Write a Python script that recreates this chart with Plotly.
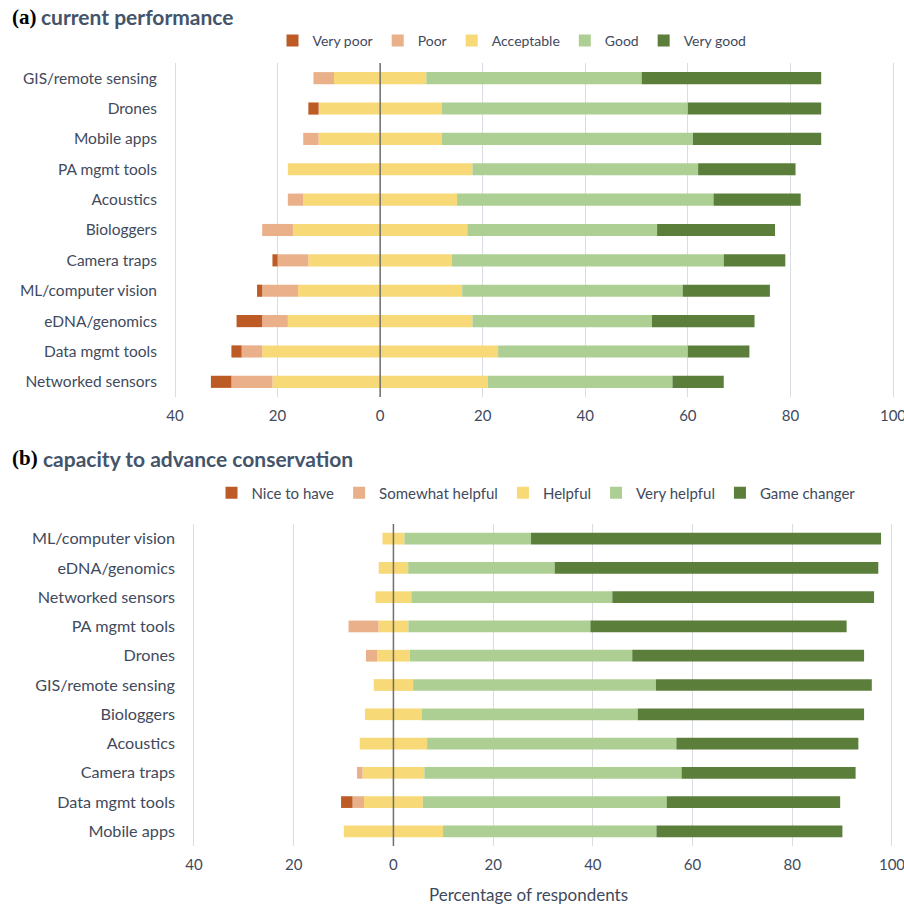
import plotly.graph_objects as go

# ---------------- data ----------------
cats_a = ["GIS/remote sensing", "Drones", "Mobile apps", "PA mgmt tools", "Acoustics",
          "Biologgers", "Camera traps", "ML/computer vision", "eDNA/genomics",
          "Data mgmt tools", "Networked sensors"]
very_poor_a = [0, 2, 0, 0, 0, 0, 1, 1, 5, 2, 4]
poor_a = [4, 0, 3, 0, 3, 6, 6, 7, 5, 4, 8]
acceptable_a = [18, 24, 24, 36, 30, 34, 28, 32, 36, 46, 42]
good_a = [42, 48, 49, 44, 50, 37, 53, 43, 35, 37, 36]
very_good_a = [35, 26, 25, 19, 17, 23, 12, 17, 20, 12, 10]

cats_b = ["ML/computer vision", "eDNA/genomics", "Networked sensors", "PA mgmt tools", "Drones",
          "GIS/remote sensing", "Biologgers", "Acoustics", "Camera traps",
          "Data mgmt tools", "Mobile apps"]
nice_b = [0, 0, 0, 0, 0, 0, 0, 0, 0, 2.3, 0]
somewhat_b = [0, 0, 0, 6.0, 2.2, 0, 0, 0, 1.1, 2.3, 0]
helpful_b = [4.4, 5.9, 7.2, 6.0, 6.6, 7.9, 11.4, 13.5, 12.4, 11.8, 19.9]
very_helpful_b = [25.4, 29.4, 40.3, 36.5, 44.6, 48.7, 43.3, 50.0, 51.6, 48.9, 42.8]
game_b = [70.2, 64.9, 52.5, 51.4, 46.5, 43.3, 45.4, 36.5, 34.9, 34.8, 37.3]

tick_vals = [-40, -20, 0, 20, 40, 60, 80, 100]
tick_text = ["40", "20", "0", "20", "40", "60", "80", "100"]

labels_a = ["Very poor", "Poor", "Acceptable", "Good", "Very good"]
labels_b = ["Nice to have", "Somewhat helpful", "Helpful", "Very helpful", "Game changer"]
colors = ["#BC5B26", "#E9B08A", "#F7D977", "#AECF94", "#5B7F3B"]

TXT = "#3F4A5C"
FONT = "Lato"

fig = go.Figure()


def add_panel(cats, s1, s2, s3, s4, s5, labels, xa, ya, legend):
    neg = lambda v: [-x for x in v]
    half = [x / 2 for x in s3]
    specs = [
        (neg(half), labels[2], colors[2], 3, False),
        (neg(s2), labels[1], colors[1], 2, True),
        (neg(s1), labels[0], colors[0], 1, True),
        (half, labels[2], colors[2], 3, True),
        (s4, labels[3], colors[3], 4, True),
        (s5, labels[4], colors[4], 5, True),
    ]
    for vals, name, col, rank, show in specs:
        fig.add_trace(go.Bar(
            x=vals, y=cats, orientation="h", name=name,
            marker=dict(color=col, line=dict(width=0)),
            xaxis=xa, yaxis=ya, legend=legend, legendrank=rank,
            showlegend=show, hoverinfo="skip",
        ))


add_panel(cats_a, very_poor_a, poor_a, acceptable_a, good_a, very_good_a, labels_a, "x", "y", "legend")
add_panel(cats_b, nice_b, somewhat_b, helpful_b, very_helpful_b, game_b, labels_b, "x2", "y2", "legend2")

W, H = 904, 906
PAD = 0.6

xcommon = dict(range=[-40 - PAD, 100 + PAD], tickvals=tick_vals, ticktext=tick_text,
               showgrid=True, gridcolor="#D9DDE3", gridwidth=1, zeroline=False,
               showline=False, ticks="", ticklabelstandoff=8, automargin=False,
               ticklabeloverflow="allow",
               tickfont=dict(family=FONT, size=15, color=TXT), fixedrange=True)

# pixel positions of -40 and 100 on each panel, domains padded accordingly
a_l, a_r = 175, 893
b_l, b_r = 194, 892
pa = (a_r - a_l) / 140 * PAD
pb = (b_r - b_l) / 140 * PAD

fig.update_layout(
    width=W, height=H, margin=dict(l=0, r=0, t=0, b=0, autoexpand=False),
    paper_bgcolor="white", plot_bgcolor="white",
    barmode="relative", bargap=0.6,
    xaxis=dict(domain=[(a_l - pa) / W, (a_r + pa) / W], anchor="y", **xcommon),
    yaxis=dict(domain=[1 - 397 / H, 1 - 63 / H], anchor="x", categoryorder="array",
               categoryarray=cats_a, autorange="reversed", showgrid=False,
               ticks="", ticklabelstandoff=14, automargin=False,
               tickfont=dict(family=FONT, size=15.5, color=TXT)),
    xaxis2=dict(domain=[(b_l - pb) / W, (b_r + pb) / W], anchor="y2", **xcommon),
    yaxis2=dict(domain=[1 - 846 / H, 1 - 524 / H], anchor="x2", categoryorder="array",
                categoryarray=cats_b, autorange="reversed", showgrid=False,
                ticks="", ticklabelstandoff=15, automargin=False,
                tickfont=dict(family=FONT, size=16.2, color=TXT)),
    legend=dict(orientation="h", x=512 / W, y=1 - 41 / H, xanchor="center", yanchor="middle",
                font=dict(family=FONT, size=14, color=TXT), traceorder="normal",
                itemwidth=30, bgcolor="rgba(0,0,0,0)"),
    legend2=dict(orientation="h", x=536 / W, y=1 - 493 / H, xanchor="center", yanchor="middle",
                 font=dict(family=FONT, size=15, color=TXT), traceorder="normal",
                 itemwidth=30, bgcolor="rgba(0,0,0,0)"),
    showlegend=True,
)

# zero lines drawn above the bars
for xr, yr in (("x", "y domain"), ("x2", "y2 domain")):
    fig.add_shape(type="line", xref=xr, yref=yr, x0=0, x1=0, y0=0, y1=1,
                  line=dict(color="#6E6E6E", width=1.5), layer="above")

# titles
title_font = dict(family=FONT, size=21, color="#44546A")
serif_font = dict(family="Liberation Serif", size=21, color="black")
fig.add_annotation(text="<b>(a)</b>", x=10 / W, y=1 - 17 / H, xref="paper", yref="paper",
                   xanchor="left", yanchor="middle", showarrow=False, font=serif_font)
fig.add_annotation(text="<b>current performance</b>", x=39 / W, y=1 - 17 / H, xref="paper",
                   yref="paper", xanchor="left", yanchor="middle", showarrow=False, font=title_font)
fig.add_annotation(text="<b>(b)</b>", x=10 / W, y=1 - 458 / H, xref="paper", yref="paper",
                   xanchor="left", yanchor="middle", showarrow=False, font=serif_font)
fig.add_annotation(text="<b>capacity to advance conservation</b>", x=41 / W, y=1 - 458 / H,
                   xref="paper", yref="paper", xanchor="left", yanchor="middle",
                   showarrow=False, font=title_font)
fig.add_annotation(text="Percentage of respondents", x=528 / W, y=1 - 894 / H, xref="paper",
                   yref="paper", xanchor="center", yanchor="middle", showarrow=False,
                   font=dict(family=FONT, size=17, color=TXT))

fig.write_html("out.html", config={"displayModeBar": False},
               post_script="document.body.style.margin='0px';")
